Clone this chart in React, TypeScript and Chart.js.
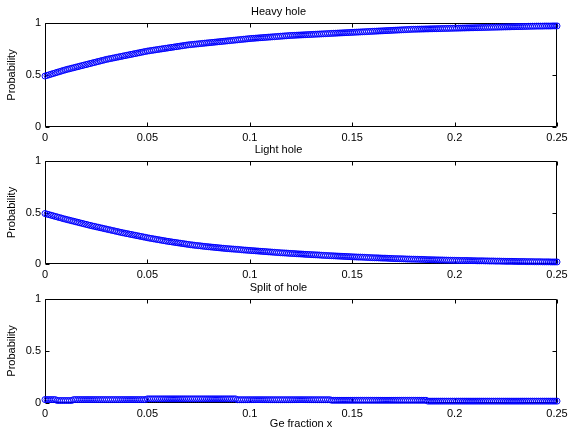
import React, { useEffect, useRef } from "react";
import { Chart, registerables } from "chart.js";

Chart.register(...registerables);

// Ge fraction x (sample positions)
const X_VALUES = [
  0.000, 0.001, 0.002, 0.003, 0.004, 0.005, 0.006, 0.007, 0.008, 0.009,
  0.010, 0.011, 0.012, 0.013, 0.014, 0.015, 0.016, 0.017, 0.018, 0.019,
  0.020, 0.021, 0.022, 0.023, 0.024, 0.025, 0.026, 0.027, 0.028, 0.029,
  0.030, 0.031, 0.032, 0.033, 0.034, 0.035, 0.036, 0.037, 0.038, 0.039,
  0.040, 0.041, 0.042, 0.043, 0.044, 0.045, 0.046, 0.047, 0.048, 0.049,
  0.050, 0.051, 0.052, 0.053, 0.054, 0.055, 0.056, 0.057, 0.058, 0.059,
  0.060, 0.061, 0.062, 0.063, 0.064, 0.065, 0.066, 0.067, 0.068, 0.069,
  0.070, 0.071, 0.072, 0.073, 0.074, 0.075, 0.076, 0.077, 0.078, 0.079,
  0.080, 0.081, 0.082, 0.083, 0.084, 0.085, 0.086, 0.087, 0.088, 0.089,
  0.090, 0.091, 0.092, 0.093, 0.094, 0.095, 0.096, 0.097, 0.098, 0.099,
  0.100, 0.101, 0.102, 0.103, 0.104, 0.105, 0.106, 0.107, 0.108, 0.109,
  0.110, 0.111, 0.112, 0.113, 0.114, 0.115, 0.116, 0.117, 0.118, 0.119,
  0.120, 0.121, 0.122, 0.123, 0.124, 0.125, 0.126, 0.127, 0.128, 0.129,
  0.130, 0.131, 0.132, 0.133, 0.134, 0.135, 0.136, 0.137, 0.138, 0.139,
  0.140, 0.141, 0.142, 0.143, 0.144, 0.145, 0.146, 0.147, 0.148, 0.149,
  0.150, 0.151, 0.152, 0.153, 0.154, 0.155, 0.156, 0.157, 0.158, 0.159,
  0.160, 0.161, 0.162, 0.163, 0.164, 0.165, 0.166, 0.167, 0.168, 0.169,
  0.170, 0.171, 0.172, 0.173, 0.174, 0.175, 0.176, 0.177, 0.178, 0.179,
  0.180, 0.181, 0.182, 0.183, 0.184, 0.185, 0.186, 0.187, 0.188, 0.189,
  0.190, 0.191, 0.192, 0.193, 0.194, 0.195, 0.196, 0.197, 0.198, 0.199,
  0.200, 0.201, 0.202, 0.203, 0.204, 0.205, 0.206, 0.207, 0.208, 0.209,
  0.210, 0.211, 0.212, 0.213, 0.214, 0.215, 0.216, 0.217, 0.218, 0.219,
  0.220, 0.221, 0.222, 0.223, 0.224, 0.225, 0.226, 0.227, 0.228, 0.229,
  0.230, 0.231, 0.232, 0.233, 0.234, 0.235, 0.236, 0.237, 0.238, 0.239,
  0.240, 0.241, 0.242, 0.243, 0.244, 0.245, 0.246, 0.247, 0.248, 0.249,
  0.250,
];

const HEAVY_HOLE = [
  0.490, 0.496, 0.502, 0.508, 0.514, 0.520, 0.526, 0.532, 0.538, 0.544,
  0.550, 0.555, 0.560, 0.565, 0.570, 0.575, 0.580, 0.585, 0.590, 0.595,
  0.600, 0.605, 0.610, 0.615, 0.620, 0.625, 0.630, 0.635, 0.640, 0.645,
  0.650, 0.654, 0.658, 0.662, 0.666, 0.670, 0.674, 0.678, 0.682, 0.686,
  0.690, 0.694, 0.698, 0.702, 0.706, 0.710, 0.714, 0.718, 0.722, 0.726,
  0.730, 0.733, 0.736, 0.739, 0.742, 0.745, 0.748, 0.751, 0.754, 0.757,
  0.760, 0.763, 0.766, 0.769, 0.772, 0.775, 0.778, 0.781, 0.784, 0.787,
  0.790, 0.792, 0.794, 0.796, 0.798, 0.800, 0.802, 0.804, 0.806, 0.808,
  0.810, 0.812, 0.814, 0.816, 0.818, 0.820, 0.822, 0.824, 0.826, 0.828,
  0.830, 0.832, 0.834, 0.836, 0.838, 0.840, 0.842, 0.844, 0.846, 0.848,
  0.850, 0.852, 0.853, 0.855, 0.856, 0.858, 0.859, 0.861, 0.862, 0.864,
  0.865, 0.867, 0.868, 0.870, 0.871, 0.873, 0.874, 0.876, 0.877, 0.879,
  0.880, 0.881, 0.882, 0.883, 0.884, 0.885, 0.886, 0.887, 0.888, 0.889,
  0.890, 0.891, 0.892, 0.893, 0.894, 0.895, 0.896, 0.897, 0.898, 0.899,
  0.900, 0.901, 0.902, 0.903, 0.904, 0.905, 0.906, 0.907, 0.908, 0.909,
  0.910, 0.911, 0.912, 0.913, 0.914, 0.915, 0.916, 0.917, 0.918, 0.919,
  0.920, 0.921, 0.922, 0.923, 0.924, 0.925, 0.926, 0.927, 0.928, 0.929,
  0.930, 0.931, 0.932, 0.933, 0.934, 0.935, 0.936, 0.937, 0.938, 0.939,
  0.940, 0.940, 0.941, 0.941, 0.942, 0.942, 0.943, 0.943, 0.944, 0.944,
  0.945, 0.945, 0.946, 0.946, 0.947, 0.947, 0.948, 0.948, 0.949, 0.949,
  0.950, 0.950, 0.951, 0.951, 0.952, 0.952, 0.953, 0.953, 0.954, 0.954,
  0.955, 0.955, 0.956, 0.956, 0.957, 0.957, 0.958, 0.958, 0.959, 0.959,
  0.960, 0.960, 0.961, 0.961, 0.962, 0.962, 0.963, 0.963, 0.964, 0.964,
  0.965, 0.965, 0.966, 0.966, 0.967, 0.967, 0.968, 0.968, 0.969, 0.969,
  0.970, 0.970, 0.970, 0.970, 0.971, 0.971, 0.971, 0.971, 0.972, 0.972,
  0.972,
];

const LIGHT_HOLE = [
  0.490, 0.484, 0.479, 0.473, 0.468, 0.462, 0.457, 0.451, 0.446, 0.440,
  0.435, 0.430, 0.425, 0.420, 0.415, 0.410, 0.405, 0.400, 0.395, 0.390,
  0.385, 0.380, 0.375, 0.370, 0.366, 0.361, 0.357, 0.352, 0.348, 0.343,
  0.339, 0.334, 0.330, 0.325, 0.321, 0.316, 0.312, 0.307, 0.303, 0.299,
  0.295, 0.291, 0.287, 0.283, 0.279, 0.275, 0.271, 0.267, 0.263, 0.259,
  0.255, 0.251, 0.248, 0.244, 0.241, 0.237, 0.234, 0.230, 0.227, 0.223,
  0.220, 0.217, 0.214, 0.211, 0.208, 0.205, 0.202, 0.199, 0.196, 0.193,
  0.190, 0.187, 0.185, 0.182, 0.180, 0.178, 0.176, 0.173, 0.171, 0.169,
  0.167, 0.165, 0.163, 0.161, 0.159, 0.157, 0.155, 0.153, 0.151, 0.149,
  0.148, 0.146, 0.145, 0.143, 0.142, 0.140, 0.138, 0.136, 0.135, 0.133,
  0.132, 0.130, 0.129, 0.127, 0.126, 0.124, 0.123, 0.121, 0.120, 0.118,
  0.117, 0.115, 0.114, 0.112, 0.111, 0.109, 0.108, 0.107, 0.106, 0.104,
  0.103, 0.102, 0.101, 0.099, 0.098, 0.097, 0.096, 0.094, 0.093, 0.092,
  0.091, 0.090, 0.089, 0.088, 0.087, 0.085, 0.084, 0.083, 0.082, 0.081,
  0.080, 0.079, 0.078, 0.077, 0.076, 0.075, 0.074, 0.073, 0.072, 0.071,
  0.070, 0.069, 0.068, 0.067, 0.067, 0.066, 0.065, 0.064, 0.063, 0.062,
  0.061, 0.060, 0.060, 0.059, 0.058, 0.057, 0.057, 0.056, 0.055, 0.054,
  0.053, 0.052, 0.052, 0.051, 0.051, 0.050, 0.049, 0.048, 0.048, 0.047,
  0.047, 0.046, 0.046, 0.045, 0.045, 0.044, 0.043, 0.042, 0.042, 0.041,
  0.041, 0.040, 0.040, 0.039, 0.039, 0.038, 0.038, 0.037, 0.037, 0.036,
  0.036, 0.035, 0.035, 0.034, 0.034, 0.034, 0.034, 0.033, 0.033, 0.032,
  0.032, 0.031, 0.031, 0.031, 0.031, 0.030, 0.030, 0.029, 0.029, 0.029,
  0.028, 0.028, 0.028, 0.027, 0.027, 0.026, 0.026, 0.026, 0.026, 0.025,
  0.025, 0.024, 0.024, 0.024, 0.024, 0.023, 0.023, 0.023, 0.023, 0.022,
  0.022, 0.022, 0.022, 0.021, 0.021, 0.021, 0.021, 0.020, 0.020, 0.020,
  0.020,
];

const SPLIT_OFF = [
  0.033, 0.033, 0.033, 0.033, 0.033, 0.033, 0.024, 0.024, 0.024, 0.024,
  0.024, 0.024, 0.024, 0.024, 0.033, 0.033, 0.033, 0.033, 0.033, 0.033,
  0.033, 0.033, 0.033, 0.033, 0.033, 0.033, 0.033, 0.033, 0.033, 0.033,
  0.033, 0.033, 0.033, 0.033, 0.033, 0.033, 0.033, 0.033, 0.033, 0.033,
  0.033, 0.033, 0.033, 0.033, 0.033, 0.033, 0.033, 0.033, 0.033, 0.033,
  0.040, 0.040, 0.040, 0.040, 0.040, 0.040, 0.040, 0.040, 0.040, 0.040,
  0.040, 0.040, 0.040, 0.040, 0.040, 0.040, 0.040, 0.040, 0.040, 0.040,
  0.040, 0.040, 0.040, 0.040, 0.040, 0.040, 0.040, 0.040, 0.040, 0.040,
  0.040, 0.040, 0.040, 0.040, 0.040, 0.040, 0.040, 0.040, 0.040, 0.040,
  0.040, 0.040, 0.040, 0.040, 0.032, 0.032, 0.032, 0.032, 0.032, 0.032,
  0.032, 0.032, 0.032, 0.032, 0.032, 0.032, 0.032, 0.032, 0.032, 0.032,
  0.032, 0.032, 0.032, 0.032, 0.032, 0.032, 0.032, 0.032, 0.032, 0.032,
  0.032, 0.032, 0.032, 0.032, 0.032, 0.032, 0.032, 0.032, 0.032, 0.032,
  0.032, 0.032, 0.032, 0.032, 0.032, 0.032, 0.032, 0.032, 0.032, 0.032,
  0.026, 0.026, 0.026, 0.026, 0.026, 0.026, 0.026, 0.026, 0.026, 0.026,
  0.026, 0.026, 0.026, 0.026, 0.026, 0.026, 0.026, 0.026, 0.026, 0.026,
  0.026, 0.026, 0.026, 0.026, 0.026, 0.026, 0.026, 0.026, 0.026, 0.026,
  0.026, 0.026, 0.026, 0.026, 0.026, 0.026, 0.026, 0.026, 0.026, 0.026,
  0.026, 0.026, 0.026, 0.026, 0.026, 0.026, 0.026, 0.018, 0.018, 0.018,
  0.018, 0.018, 0.018, 0.018, 0.018, 0.018, 0.018, 0.018, 0.018, 0.018,
  0.018, 0.018, 0.018, 0.018, 0.018, 0.018, 0.018, 0.018, 0.018, 0.018,
  0.018, 0.018, 0.018, 0.018, 0.018, 0.018, 0.018, 0.018, 0.018, 0.018,
  0.018, 0.018, 0.018, 0.018, 0.018, 0.018, 0.018, 0.018, 0.018, 0.018,
  0.018, 0.018, 0.018, 0.018, 0.018, 0.018, 0.018, 0.018, 0.018, 0.018,
  0.018, 0.018, 0.018, 0.018, 0.018, 0.018, 0.018, 0.018, 0.018, 0.018,
  0.018,
];

const X_TICKS = [0, 0.05, 0.1, 0.15, 0.2, 0.25];
const Y_TICKS = [0, 0.5, 1];
const PANEL_TITLES = ["Heavy hole", "Light hole", "Split of hole"];
const Y_LABEL = "Probability";
const X_LABEL = "Ge fraction x";

const FONT = "'Liberation Sans', Arial, Helvetica, sans-serif";
const MARKER = "#0000ff";

const fmt = (v: any) => String(+Number(v).toFixed(2));

const boxPlugin = {
  id: "matlabBox",
  beforeDatasetsDraw(chart: any) {
    const { ctx, chartArea } = chart;
    const xs = chart.scales.x;
    const ys = chart.scales.y;
    const l = Math.round(chartArea.left) + 0.5;
    const r = Math.round(chartArea.right) - 0.5;
    const t = Math.round(chartArea.top) + 0.5;
    const b = Math.round(chartArea.bottom) - 0.5;
    ctx.save();
    ctx.strokeStyle = "#000";
    ctx.lineWidth = 1;
    ctx.beginPath();
    ctx.rect(l, t, r - l, b - t);
    const tl = 4;
    for (const v of X_TICKS) {
      const px = Math.round(xs.getPixelForValue(v)) + 0.5;
      ctx.moveTo(px, b);
      ctx.lineTo(px, b - tl);
      ctx.moveTo(px, t);
      ctx.lineTo(px, t + tl);
    }
    for (const v of Y_TICKS) {
      const py = Math.round(ys.getPixelForValue(v)) + 0.5;
      ctx.moveTo(l, py);
      ctx.lineTo(l + tl, py);
      ctx.moveTo(r, py);
      ctx.lineTo(r - tl, py);
    }
    ctx.stroke();
    ctx.restore();
  },
};

type PanelProps = {
  title: string;
  values: number[];
  top: number;
  height: number;
  xTitle?: string;
};

function Panel({ title, values, top, height, xTitle }: PanelProps) {
  const ref = useRef<HTMLCanvasElement | null>(null);

  useEffect(() => {
    if (!ref.current) return;
    const font = { family: FONT, size: 11, weight: "normal" as const };
    const chart = new Chart(ref.current, {
      type: "scatter",
      data: {
        datasets: [
          {
            data: X_VALUES.map((x, i) => ({ x, y: values[i] })),
            pointStyle: "circle",
            pointRadius: 3,
            pointBorderWidth: 1,
            pointBorderColor: MARKER,
            pointBackgroundColor: "rgba(0,0,0,0)",
            showLine: false,
            clip: false as any,
          } as any,
        ],
      },
      options: {
        responsive: false,
        animation: false,
        events: [],
        layout: { padding: { left: 0, right: 12, top: 0, bottom: 0 } },
        plugins: {
          legend: { display: false },
          tooltip: { enabled: false },
          title: {
            display: true,
            text: title,
            color: "#000",
            font,
            padding: { top: 5, bottom: 4.8 },
          },
        },
        scales: {
          x: {
            type: "linear",
            min: 0,
            max: 0.25,
            grid: { display: false, drawTicks: false },
            border: { display: false },
            afterBuildTicks: (s: any) => {
              s.ticks = X_TICKS.map((v) => ({ value: v }));
            },
            ticks: {
              color: "#000",
              font,
              padding: 4,
              maxRotation: 0,
              autoSkip: false,
              callback: fmt,
            },
            title: {
              display: !!xTitle,
              text: xTitle || "",
              color: "#000",
              font,
              padding: { top: 0, bottom: 3.4 },
            },
            afterFit: (s: any) => {
              s.height = 31;
              s.paddingLeft = 0;
              s.paddingRight = 0;
            },
          },
          y: {
            type: "linear",
            min: 0,
            max: 1,
            grid: { display: false, drawTicks: false },
            border: { display: false },
            afterBuildTicks: (s: any) => {
              s.ticks = Y_TICKS.map((v) => ({ value: v }));
            },
            ticks: {
              color: "#000",
              font,
              padding: 4,
              autoSkip: false,
              callback: fmt,
            },
            title: {
              display: true,
              text: Y_LABEL,
              color: "#000",
              font,
              padding: { top: 5, bottom: 0 },
            },
            afterFit: (s: any) => {
              s.width = 45;
              s.paddingTop = 0;
              s.paddingBottom = 0;
            },
          },
        },
      } as any,
      plugins: [boxPlugin],
    });
    return () => chart.destroy();
  }, [title, values, xTitle]);

  return (
    <canvas
      ref={ref}
      width={569}
      height={height}
      style={{ position: "absolute", left: 0, top, width: 569, height, display: "block" }}
    />
  );
}

export default function App() {
  return (
    <div
      style={{
        position: "fixed",
        left: 0,
        top: 0,
        width: 569,
        height: 434,
        background: "#fff",
        overflow: "hidden",
      }}
    >
      <Panel title={PANEL_TITLES[0]} values={HEAVY_HOLE} top={0} height={158} />
      <Panel title={PANEL_TITLES[1]} values={LIGHT_HOLE} top={138} height={157} />
      <Panel title={PANEL_TITLES[2]} values={SPLIT_OFF} top={276} height={158} xTitle={X_LABEL} />
    </div>
  );
}
